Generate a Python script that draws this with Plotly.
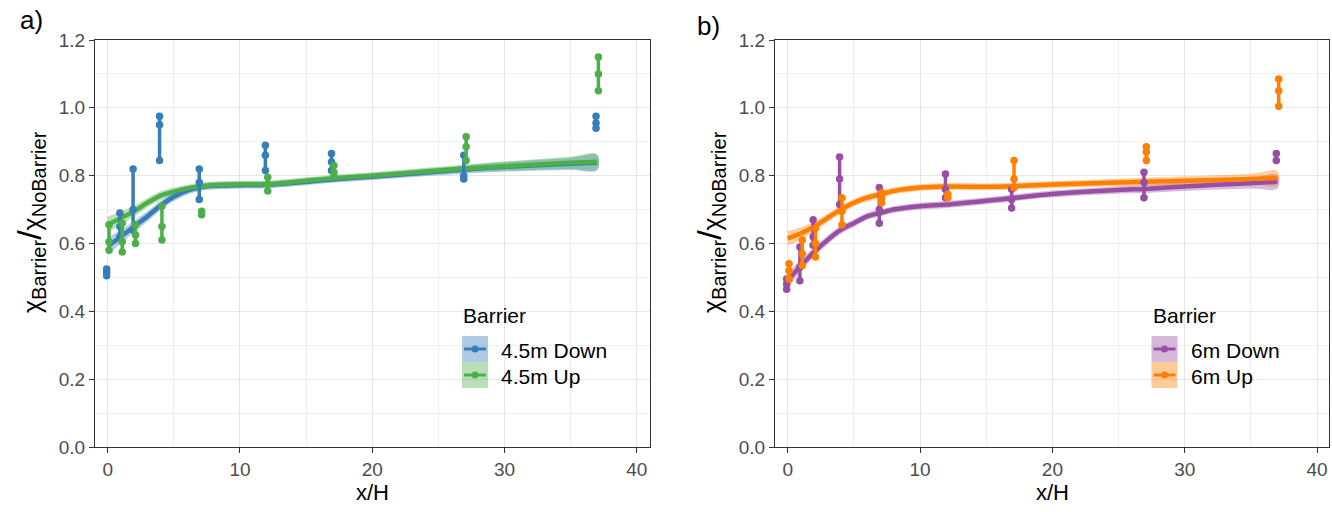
import plotly.graph_objects as go

# ---------------- data ----------------
x_obs = [0, 1, 2, 4, 7, 12, 17, 27, 37]

down45 = [[0.525, 0.515, 0.505], [0.69, 0.65, 0.62], [0.82, 0.70, 0.64],
          [0.975, 0.95, 0.845], [0.82, 0.78, 0.73], [0.89, 0.86, 0.815],
          [0.865, 0.84, 0.815], [0.86, 0.80, 0.79], [0.975, 0.955, 0.94]]
up45 = [[0.655, 0.605, 0.58], [0.66, 0.605, 0.575], [0.655, 0.625, 0.60],
        [0.71, 0.65, 0.61], [0.695, 0.685], [0.795, 0.775, 0.755],
        [0.83, 0.81, 0.80], [0.915, 0.885, 0.845], [1.15, 1.10, 1.05]]
down6 = [[0.495, 0.48, 0.465], [0.59, 0.53, 0.49], [0.67, 0.62, 0.595],
         [0.855, 0.79, 0.715], [0.765, 0.70, 0.66], [0.805, 0.76, 0.735],
         [0.76, 0.73, 0.705], [0.81, 0.78, 0.735], [0.865, 0.845]]
up6 = [[0.54, 0.52, 0.495], [0.61, 0.57, 0.535], [0.645, 0.60, 0.56],
       [0.735, 0.695, 0.655], [0.75, 0.735, 0.72], [0.745, 0.735],
       [0.845, 0.79, 0.765], [0.885, 0.87, 0.845], [1.085, 1.05, 1.005]]

fit_x = [0, 1, 2, 3, 4, 5, 6, 7, 8, 10, 12, 15, 17, 20, 25, 27, 30, 35, 37]
fit_down45 = [0.592, 0.62, 0.65, 0.68, 0.712, 0.738, 0.756, 0.766, 0.77, 0.772,
              0.773, 0.782, 0.789, 0.797, 0.812, 0.818, 0.826, 0.835, 0.838]
fit_up45 = [0.655, 0.675, 0.695, 0.72, 0.741, 0.753, 0.762, 0.768, 0.772, 0.775,
            0.775, 0.785, 0.792, 0.80, 0.815, 0.821, 0.828, 0.838, 0.841]
fit_down6 = [0.49, 0.535, 0.575, 0.61, 0.64, 0.66, 0.68, 0.69, 0.70, 0.71,
             0.715, 0.726, 0.734, 0.746, 0.758, 0.761, 0.768, 0.778, 0.782]
fit_up6 = [0.615, 0.63, 0.65, 0.675, 0.70, 0.72, 0.735, 0.745, 0.755, 0.765,
           0.768, 0.767, 0.769, 0.774, 0.78, 0.782, 0.785, 0.79, 0.793]

hw_down45 = [0.026, 0.02, 0.017, 0.015, 0.014, 0.013, 0.012, 0.011, 0.011, 0.01,
             0.01, 0.01, 0.01, 0.01, 0.011, 0.012, 0.014, 0.018, 0.022]
hw_up45 = [0.024, 0.019, 0.016, 0.014, 0.013, 0.012, 0.011, 0.011, 0.01, 0.01,
           0.01, 0.01, 0.01, 0.01, 0.011, 0.012, 0.014, 0.018, 0.022]
hw_down6 = [0.022, 0.018, 0.015, 0.013, 0.012, 0.011, 0.011, 0.01, 0.01, 0.01,
            0.01, 0.01, 0.01, 0.01, 0.011, 0.012, 0.013, 0.016, 0.02]
hw_up6 = [0.022, 0.018, 0.015, 0.013, 0.012, 0.011, 0.011, 0.01, 0.01, 0.01,
          0.01, 0.01, 0.01, 0.01, 0.011, 0.012, 0.013, 0.016, 0.02]

names_a = ["4.5m Down", "4.5m Up"]
names_b = ["6m Down", "6m Up"]
y_ticks = [0.0, 0.2, 0.4, 0.6, 0.8, 1.0, 1.2]
x_ticks = [0, 10, 20, 30, 40]

# ---------------- style ----------------
C_BLUE, C_GREEN, C_PURPLE, C_ORANGE = "#377EB8", "#4DAF4A", "#984EA3", "#FF7F00"
FONT = "Liberation Sans"
W, H = 1332, 512


def rgba(hexc, a):
    h = hexc.lstrip("#")
    return "rgba(%d,%d,%d,%.2f)" % (int(h[0:2], 16), int(h[2:4], 16), int(h[4:6], 16), a)


def PX(px):
    return px / W


def PY(py):
    return 1 - py / H


fig = go.Figure()


def add_band(xa, ya, fit, hw, color):
    upper = [f + h for f, h in zip(fit, hw)]
    lower = [f - h for f, h in zip(fit, hw)]
    fig.add_trace(go.Scatter(
        x=fit_x + fit_x[::-1], y=upper + lower[::-1], fill="toself",
        fillcolor=rgba(color, 0.38), line=dict(width=0, shape="spline"),
        mode="lines", hoverinfo="skip", showlegend=False, xaxis=xa, yaxis=ya))


def add_fit(xa, ya, fit, color):
    fig.add_trace(go.Scatter(
        x=fit_x, y=fit, mode="lines",
        line=dict(color=color, width=4.5, shape="spline", smoothing=0.8),
        showlegend=False, xaxis=xa, yaxis=ya))


def add_points(xa, ya, obs, color, dodge):
    xs, ys = [], []
    for xv, vals in zip(x_obs, obs):
        for v in vals:
            xs.append(xv + dodge)
            ys.append(v)
        xs.append(None)
        ys.append(None)
    fig.add_trace(go.Scatter(
        x=xs, y=ys, mode="lines+markers", line=dict(color=color, width=3.5),
        marker=dict(color=color, size=7.5), showlegend=False, xaxis=xa, yaxis=ya,
        connectgaps=False))


for xa, ya, sets in [
    ("x", "y", [(down45, fit_down45, hw_down45, C_BLUE, -0.08),
                (up45, fit_up45, hw_up45, C_GREEN, 0.1)]),
    ("x2", "y2", [(down6, fit_down6, hw_down6, C_PURPLE, -0.08),
                  (up6, fit_up6, hw_up6, C_ORANGE, 0.1)]),
]:
    for obs, fit, hw, col, dg in sets:
        add_band(xa, ya, fit, hw, col)
    for obs, fit, hw, col, dg in sets:
        add_fit(xa, ya, fit, col)
    for obs, fit, hw, col, dg in sets:
        add_points(xa, ya, obs, col, dg)

axis_common = dict(
    showline=True, mirror=True, linecolor="#333333", linewidth=1.2,
    ticks="outside", ticklen=5, tickwidth=1.2, tickcolor="#333333",
    tickfont=dict(family=FONT, size=19, color="#4d4d4d"),
    showgrid=True, gridcolor="#e6e6e6", gridwidth=1.2, zeroline=False,
    automargin=False,
)

xdom_a = [PX(95), PX(650)]
xdom_b = [PX(775), PX(1329)]
ydom = [PY(447), PY(40)]

minor_x = dict(dtick=5, tick0=5, showgrid=True, gridcolor="#f0f0f0", gridwidth=0.9, ticks="")
minor_y = dict(dtick=0.2, tick0=0.1, showgrid=True, gridcolor="#f0f0f0", gridwidth=0.9, ticks="")

fig.update_layout(
    width=W, height=H, autosize=False,
    margin=dict(l=0, r=0, t=0, b=0, autoexpand=False),
    paper_bgcolor="white", plot_bgcolor="white",
    font=dict(family=FONT, color="black"),
    showlegend=False,
    xaxis=dict(domain=xdom_a, range=[-0.96, 41.0], tickvals=x_ticks, anchor="y",
               minor=minor_x, **axis_common),
    yaxis=dict(domain=ydom, range=[0, 1.2], tickvals=y_ticks, tickformat=".1f", anchor="x",
               minor=minor_y, **axis_common),
    xaxis2=dict(domain=xdom_b, range=[-0.96, 40.9], tickvals=x_ticks, anchor="y2",
                minor=minor_x, **axis_common),
    yaxis2=dict(domain=ydom, range=[0, 1.2], tickvals=y_ticks, tickformat=".1f", anchor="x2",
                minor=minor_y, **axis_common),
)

ytitle = ("χ<sub><span style='font-size:20px'>Barrier</span></sub>"
          "<span style='font-size:34px'>/</span>"
          "χ<sub><span style='font-size:20px'>NoBarrier</span></sub>")

annotations = []
shapes = []
for off, label, lx, ly, names, cols in [
    (0, "a)", 18, 20, names_a, (C_BLUE, C_GREEN)),
    (680, "b)", 695, 26, names_b, (C_PURPLE, C_ORANGE)),
]:
    annotations.append(dict(text=label, x=PX(lx), y=PY(ly), xref="paper", yref="paper",
                            xanchor="left", yanchor="middle", showarrow=False,
                            font=dict(family=FONT, size=26, color="black")))
    annotations.append(dict(text=ytitle, x=PX(30 + off), y=PY(222), xref="paper", yref="paper",
                            xanchor="center", yanchor="middle", textangle=-90, showarrow=False,
                            font=dict(family=FONT, size=25, color="black")))
    annotations.append(dict(text="x/H", x=PX((95 + 650) / 2 + off), y=PY(492), xref="paper", yref="paper",
                            xanchor="center", yanchor="middle", showarrow=False,
                            font=dict(family=FONT, size=22, color="black")))
    # manual legend
    lg = 462 + (689.5 if off else 0)
    annotations.append(dict(text="Barrier", x=PX(lg - 1), y=PY(315), xref="paper", yref="paper",
                            xanchor="left", yanchor="middle", showarrow=False,
                            font=dict(family=FONT, size=21, color="black")))
    for i, (nm, col) in enumerate(zip(names, cols)):
        y0, y1 = 336 + 26 * i, 362 + 26 * i
        ym = (y0 + y1) / 2
        shapes.append(dict(type="rect", xref="paper", yref="paper", x0=PX(lg), x1=PX(lg + 26),
                           y0=PY(y1), y1=PY(y0), fillcolor=rgba(col, 0.4), line=dict(width=0)))
        shapes.append(dict(type="line", xref="paper", yref="paper", x0=PX(lg + 2), x1=PX(lg + 24),
                           y0=PY(ym), y1=PY(ym), line=dict(color=col, width=3)))
        shapes.append(dict(type="circle", xref="paper", yref="paper", x0=PX(lg + 9.5), x1=PX(lg + 16.5),
                           y0=PY(ym + 3.5), y1=PY(ym - 3.5), fillcolor=col, line=dict(width=0)))
        annotations.append(dict(text=nm, x=PX(lg + 37), y=PY(ym + 1), xref="paper", yref="paper",
                                xanchor="left", yanchor="middle", showarrow=False,
                                font=dict(family=FONT, size=21, color="black")))

fig.update_layout(annotations=annotations, shapes=shapes)
fig.write_html("out.html")
